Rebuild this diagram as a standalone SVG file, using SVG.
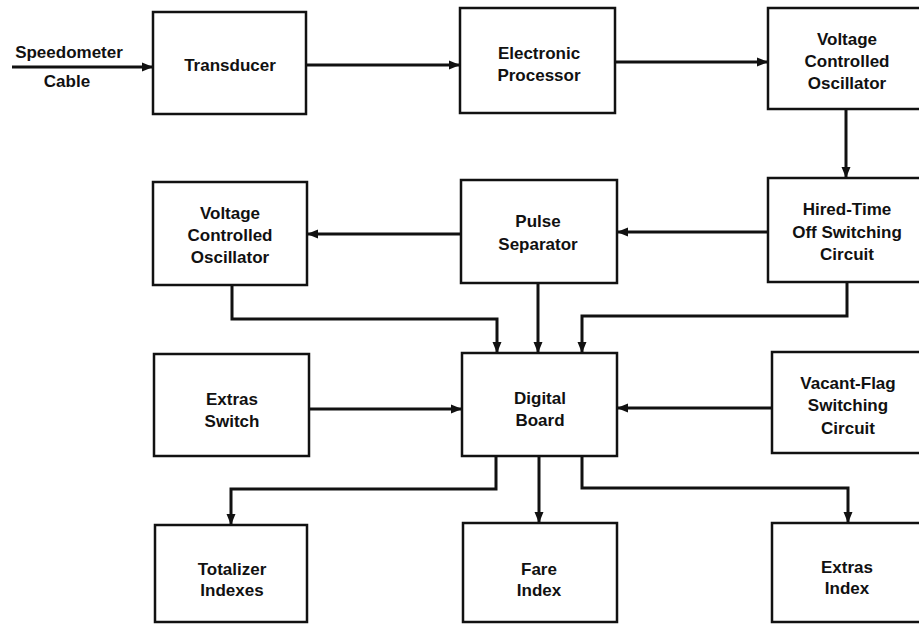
<svg xmlns="http://www.w3.org/2000/svg" width="919" height="626" viewBox="0 0 919 626">
<style>
.box{fill:#fff;stroke:#111;stroke-width:2.5}
.t{font-family:"Liberation Sans",Arial,sans-serif;font-weight:bold;font-size:17px;fill:#111;text-anchor:middle}
.c{fill:none;stroke:#111;stroke-width:3;marker-end:url(#ah)}
</style>
<defs>
<marker id="ah" markerUnits="userSpaceOnUse" markerWidth="12" markerHeight="10" refX="11" refY="5" orient="auto">
<path d="M0,0.5 L11,5 L0,9.5 Z" fill="#111"/>
</marker>
</defs>
<rect width="919" height="626" fill="#fff"/>
<g id="connectors">
<path class="c" d="M12 67 H153"/>
<path class="c" d="M306 65 H460"/>
<path class="c" d="M615 62 H768"/>
<path class="c" d="M846 109 V178"/>
<path class="c" d="M768 232 H617"/>
<path class="c" d="M461 234 H307"/>
<path class="c" d="M232 285 V319 H497 V353"/>
<path class="c" d="M538 283 V353"/>
<path class="c" d="M847 282 V316 H582 V353"/>
<path class="c" d="M309 409 H462"/>
<path class="c" d="M772 408 H617"/>
<path class="c" d="M496 456 V489 H231 V525"/>
<path class="c" d="M539 456 V523"/>
<path class="c" d="M582 456 V488 H848 V523"/>
</g>
<g id="input-label">
<text class="t" x="69" y="58">Speedometer</text>
<text class="t" x="67" y="87">Cable</text>
</g>
<g id="transducer">
<rect class="box" x="153" y="12" width="153" height="102"/>
<text class="t" x="230" y="71">Transducer</text>
</g>
<g id="electronic-processor">
<rect class="box" x="460" y="8" width="155" height="105"/>
<text class="t" x="539" y="59">Electronic</text>
<text class="t" x="539" y="81">Processor</text>
</g>
<g id="vco-top">
<rect class="box" x="768" y="8" width="170" height="101"/>
<text class="t" x="847" y="45">Voltage</text>
<text class="t" x="847" y="67">Controlled</text>
<text class="t" x="847" y="89">Oscillator</text>
</g>
<g id="vco-left">
<rect class="box" x="153" y="182" width="154" height="103"/>
<text class="t" x="230" y="219">Voltage</text>
<text class="t" x="230" y="241">Controlled</text>
<text class="t" x="230" y="263">Oscillator</text>
</g>
<g id="pulse-separator">
<rect class="box" x="461" y="180" width="156" height="103"/>
<text class="t" x="538" y="227">Pulse</text>
<text class="t" x="538" y="250">Separator</text>
</g>
<g id="hired-time">
<rect class="box" x="768" y="178" width="170" height="104"/>
<text class="t" x="847" y="215">Hired-Time</text>
<text class="t" x="847" y="238">Off Switching</text>
<text class="t" x="847" y="260">Circuit</text>
</g>
<g id="extras-switch">
<rect class="box" x="154" y="354" width="155" height="102"/>
<text class="t" x="232" y="405">Extras</text>
<text class="t" x="232" y="427">Switch</text>
</g>
<g id="digital-board">
<rect class="box" x="462" y="353" width="155" height="103"/>
<text class="t" x="540" y="404">Digital</text>
<text class="t" x="540" y="426">Board</text>
</g>
<g id="vacant-flag">
<rect class="box" x="772" y="352" width="166" height="101"/>
<text class="t" x="848" y="389">Vacant-Flag</text>
<text class="t" x="848" y="411">Switching</text>
<text class="t" x="848" y="434">Circuit</text>
</g>
<g id="totalizer">
<rect class="box" x="155" y="525" width="152" height="97"/>
<text class="t" x="232" y="575">Totalizer</text>
<text class="t" x="232" y="596">Indexes</text>
</g>
<g id="fare-index">
<rect class="box" x="463" y="523" width="154" height="99"/>
<text class="t" x="539" y="575">Fare</text>
<text class="t" x="539" y="596">Index</text>
</g>
<g id="extras-index">
<rect class="box" x="772" y="523" width="166" height="99"/>
<text class="t" x="847" y="573">Extras</text>
<text class="t" x="847" y="594">Index</text>
</g>
</svg>
